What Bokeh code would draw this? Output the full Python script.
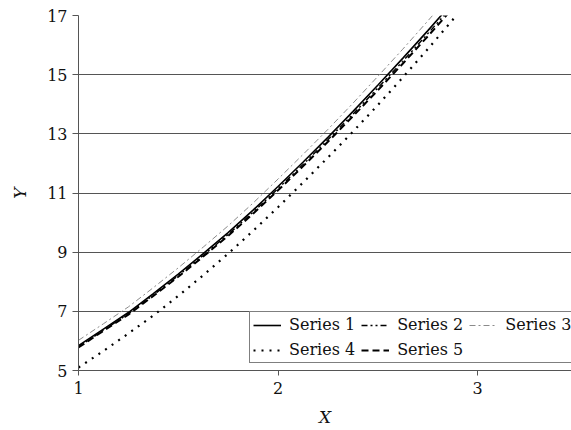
from bokeh.plotting import figure
from bokeh.models import Legend, LegendItem, FixedTicker, Range1d
from bokeh.embed import file_html
from bokeh.resources import INLINE

# Sample points along X
x = [1.0, 1.125, 1.25, 1.375, 1.5, 1.625, 1.75, 1.875, 2.0,
     2.125, 2.25, 2.375, 2.5, 2.625, 2.75, 2.875, 3.0]

series_1 = [5.84, 6.40, 6.96, 7.60, 8.26, 8.95, 9.66, 10.42, 11.22,
            12.04, 12.88, 13.75, 14.64, 15.55, 16.48, 17.44, 18.42]
series_2 = [5.80, 6.36, 6.92, 7.55, 8.21, 8.89, 9.60, 10.35, 11.15,
            11.96, 12.80, 13.66, 14.55, 15.45, 16.38, 17.33, 18.31]
series_3 = [6.02, 6.58, 7.15, 7.80, 8.47, 9.17, 9.89, 10.66, 11.47,
            12.30, 13.15, 14.03, 14.94, 15.86, 16.81, 17.78, 18.77]
series_4 = [5.10, 5.66, 6.25, 6.86, 7.52, 8.22, 8.95, 9.72, 10.52,
            11.35, 12.20, 13.07, 13.97, 14.90, 15.86, 16.85, 17.87]
series_5 = [5.78, 6.34, 6.89, 7.52, 8.17, 8.85, 9.55, 10.30, 11.09,
            11.90, 12.73, 13.59, 14.47, 15.37, 16.29, 17.24, 18.21]

series_names = ["Series 1", "Series 2", "Series 3", "Series 4", "Series 5"]
x_ticks = [1, 2, 3]
y_ticks = [5, 7, 9, 11, 13, 15, 17]

FONT = "DejaVu Serif"
GRID = "#555555"
INK = "#111111"

p = figure(width=571, height=430, output_backend="svg", toolbar_location=None,
           x_range=Range1d(1, 3.471), y_range=Range1d(5, 17),
           min_border_left=78, min_border_right=0, min_border_top=15,
           min_border_bottom=60)
p.outline_line_color = None

# horizontal grid only
p.xgrid.grid_line_color = None
p.ygrid.ticker = FixedTicker(ticks=y_ticks)
p.ygrid.grid_line_color = GRID
p.ygrid.grid_line_width = 1

p.xaxis.ticker = FixedTicker(ticks=x_ticks)
p.yaxis.ticker = FixedTicker(ticks=y_ticks)
for ax in (p.xaxis, p.yaxis):
    ax.axis_line_color = GRID
    ax.major_tick_line_color = GRID
    ax.major_tick_in = 0
    ax.minor_tick_line_color = None
    ax.major_label_text_font = FONT
    ax.major_label_text_font_size = "16px"
    ax.major_label_text_color = INK
    ax.axis_label_text_font = FONT
    ax.axis_label_text_font_style = "italic"
    ax.axis_label_text_font_size = "17px"
    ax.axis_label_text_color = INK
p.xaxis.axis_label = "X"
p.yaxis.axis_label = "Y"
p.xaxis.major_tick_out = 5
p.yaxis.major_tick_out = 6
p.xaxis.major_label_standoff = 6
p.xaxis.axis_label_standoff = 10
p.yaxis.major_label_standoff = 5
p.yaxis.axis_label_standoff = 14

r1 = p.line(x, series_1, line_color="black", line_width=1.6)
r2 = p.line(x, series_2, line_color="black", line_width=1.4,
            line_dash="6 3 2 3 2 3")
r3 = p.line(x, series_3, line_color="#8a8a8a", line_width=1.0,
            line_dash="6 3 2 3")
r4 = p.line(x, series_4, line_color="black", line_width=2.2,
            line_dash="2 6")
r5 = p.line(x, series_5, line_color="black", line_width=2.0,
            line_dash="7 4")

renderers = [r1, r2, r3, r4, r5]
legend = Legend(items=[LegendItem(label=n, renderers=[r])
                       for n, r in zip(series_names, renderers)],
                orientation="horizontal", ncols=3,
                location=(171, 7))
legend.label_text_font = FONT
legend.label_text_font_size = "16px"
legend.label_text_color = INK
legend.glyph_width = 28
legend.glyph_height = 16
legend.label_height = 16
legend.label_standoff = 8
legend.spacing = 6
legend.padding = 3
legend.margin = 0
legend.border_line_color = "black"
legend.border_line_width = 1.2
legend.background_fill_alpha = 1.0
p.add_layout(legend, "center")

open("out.html", "w").write(file_html(p, INLINE))
